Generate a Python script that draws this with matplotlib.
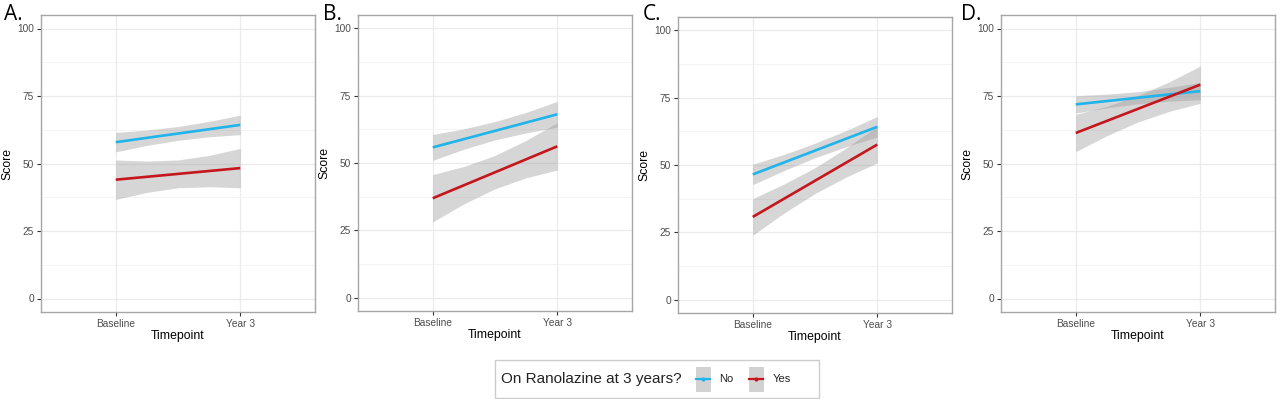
import matplotlib
matplotlib.use("Agg")
import matplotlib.pyplot as plt
from matplotlib.offsetbox import AnchoredOffsetbox, DrawingArea, HPacker, TextArea
from matplotlib.patches import Rectangle
from matplotlib.lines import Line2D

plt.rcParams['font.family'] = ['Liberation Sans', 'DejaVu Sans']

timepoints = ["Baseline", "Year 3"]
panel_labels = ["A.", "B.", "C.", "D."]
legend_title = "On Ranolazine at 3 years?"
groups = ["No", "Yes"]

# positions along the smooth where the band was read (1 = Baseline, 2 = Year 3)
band_x = [1.0, 1.25, 1.5, 1.75, 2.0]

# fitted line, baseline -> year 3
no_line = [[57.9, 64.3], [55.8, 68.1], [46.5, 64.2], [71.9, 76.8]]
yes_line = [[44.0, 48.3], [36.9, 56.2], [30.7, 57.6], [61.3, 79.2]]

# confidence band
no_upper = [[61.5, 62.4, 63.7, 65.6, 67.9],
            [60.6, 62.7, 65.4, 68.8, 72.9],
            [50.3, 53.9, 58.1, 62.8, 68.0],
            [75.1, 75.7, 76.6, 78.2, 80.0]]
no_lower = [[54.3, 56.7, 58.6, 59.9, 60.7],
            [51.0, 55.1, 58.6, 61.2, 63.3],
            [42.7, 47.9, 52.7, 56.8, 60.4],
            [68.7, 70.6, 72.1, 73.1, 73.6]]
yes_upper = [[51.3, 50.9, 51.3, 53.0, 55.6],
             [45.7, 48.7, 52.8, 58.4, 65.0],
             [37.5, 42.9, 49.0, 56.3, 64.4],
             [68.2, 71.2, 75.2, 80.2, 86.1]]
yes_lower = [[36.7, 39.3, 41.0, 41.4, 41.0],
             [28.1, 34.8, 40.4, 44.5, 47.4],
             [23.9, 32.1, 39.4, 45.5, 50.8],
             [54.4, 60.3, 65.4, 69.3, 72.3]]

colors = {"No": "#21b4ea", "Yes": "#c4161c"}
band_color = "#999999"

W, H = 1280, 399
fig = plt.figure(figsize=(W / 100, H / 100), dpi=100)

# axes boxes in pixels: left, top, right, bottom
boxes = [(41, 15, 315, 312), (358, 15, 632, 311), (678, 17, 952, 313), (1001, 15, 1275, 312)]
letter_x = [4, 323, 643, 961]

for i, (l, t, r, b) in enumerate(boxes):
    ax = fig.add_axes([l / W, 1 - b / H, (r - l) / W, (b - t) / H])
    ax.set_xlim(0.4, 2.6)
    ax.set_ylim(-5, 105)

    series = [("No", no_line[i], no_upper[i], no_lower[i]),
              ("Yes", yes_line[i], yes_upper[i], yes_lower[i])]
    for name, line, up, lo in series:
        ax.fill_between(band_x, lo, up, color=band_color, alpha=0.4, lw=0, zorder=2)
    for name, line, up, lo in series:
        ax.plot([1, 2], line, color=colors[name], lw=1.9, solid_capstyle='butt', zorder=3)

    ax.set_xticks([1, 2])
    ax.set_xticklabels(timepoints)
    ax.set_yticks([0, 25, 50, 75, 100])
    ax.set_yticks([12.5, 37.5, 62.5, 87.5], minor=True)
    ax.grid(True, which='major', color='#ebebeb', lw=0.9, zorder=0)
    ax.grid(True, which='minor', axis='y', color='#f2f2f2', lw=0.6, zorder=0)
    ax.set_axisbelow(True)
    ax.tick_params(which='major', length=3, width=0.8, color='#333333',
                   labelsize=7.3, labelcolor='#4d4d4d', pad=2)
    ax.tick_params(which='minor', length=0)
    for sp in ax.spines.values():
        sp.set_color('#a6a6a6')
        sp.set_linewidth(1.0)
    ax.set_xlabel("Timepoint", fontsize=8.8, labelpad=1)
    ax.set_ylabel("Score", fontsize=8.8, labelpad=3)
    fig.text(letter_x[i] / W, 1 - 4 / H, panel_labels[i], fontsize=15,
             ha='left', va='top', family=['Open Sans', 'DejaVu Sans'])

# legend: title on the left, keys side by side
keys = []
for g in groups:
    da = DrawingArea(11, 18, 0, 0)
    da.add_artist(Rectangle((0, 0), 11, 18, color='#d2d2d2', lw=0))
    da.add_artist(Line2D([0.5, 10.5], [9, 9], color=colors[g], lw=1.6))
    da.add_artist(Line2D([5.5], [9], color=colors[g], marker='o', ms=2))
    lab = TextArea(g, textprops=dict(fontsize=8, color='#222222'))
    keys.append(HPacker(children=[da, lab], align='center', pad=0, sep=6))
keys.append(DrawingArea(5, 1, 0, 0))  # right-hand spacing, as ggplot leaves
title = TextArea(legend_title, textprops=dict(fontsize=11, color='#222222'))
pack = HPacker(children=[title, HPacker(children=keys, align='center', pad=0, sep=11)],
               align='center', pad=0, sep=10)
anchored = AnchoredOffsetbox(loc='center', child=pack, pad=0.45, frameon=True,
                             bbox_to_anchor=(657 / W, 1 - 379 / H),
                             bbox_transform=fig.transFigure, borderpad=0)
anchored.patch.set_edgecolor('#cccccc')
anchored.patch.set_linewidth(1.0)
fig.add_artist(anchored)

fig.savefig("out.png", dpi=100)
